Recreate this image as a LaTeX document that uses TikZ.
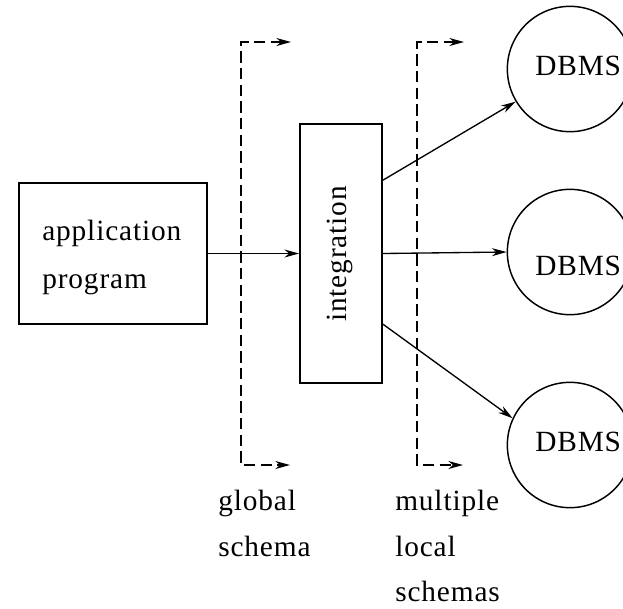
\documentclass[tikz,border=0pt]{standalone}
\usepackage{fontspec}
\setmainfont{Liberation Serif}[LetterSpace=3]
\usetikzlibrary{arrows.meta}
\begin{document}
\begin{tikzpicture}[x=0.75pt,y=-0.75pt,
  box/.style={draw,line width=1.4pt,inner sep=0pt},
  db/.style={draw,circle,line width=1.1pt,minimum size=94pt,inner sep=0pt},
  lbl/.style={anchor=base west,inner sep=0pt,font=\fontsize{22pt}{26pt}\selectfont},
  flow/.style={line width=1pt,-{Stealth[length=11pt,width=6pt,inset=3.5pt]}},
  schema/.style={line width=1.2pt,dash pattern=on 8.5pt off 4pt,
    {Stealth[length=11pt,width=6pt,inset=3.5pt]}-{Stealth[length=11pt,width=6pt,inset=3.5pt]}}]
  \useasboundingbox (0,0) rectangle (623,608);
  % blocks
  \node[box,minimum width=141pt,minimum height=106pt] (app) at (113,253.5) {};
  \node[box,minimum width=61.5pt,minimum height=194pt] (integ) at (341,253.5) {};
  \node[db] (db1) at (570,69) {};
  \node[db] (db2) at (570,252) {};
  \node[db] (db3) at (570,445) {};
  % texts
  \node[lbl] (t1) at (42,240) {application};
  \node[lbl] (t2) at (42,288) {program};
  \node[lbl,rotate=90] (t3) at (346,322) {integration};
  \node[lbl] (d1) at (535,75) {DBMS};
  \node[lbl] (d2) at (535,275) {DBMS};
  \node[lbl] (d3) at (535,451.7) {DBMS};
  \node[lbl] (g1) at (218,510) {global};
  \node[lbl] (g2) at (218,556) {schema};
  \node[lbl] (m1) at (395,510) {multiple};
  \node[lbl] (m2) at (395,556) {local};
  \node[lbl] (m3) at (395,601.5) {schemas};
  % schema boundaries
  \coordinate (gt) at (291,42);
  \coordinate (gb) at (290,465);
  \coordinate (lt) at (464,42);
  \coordinate (lb) at (463,465);
  \draw[schema] (gt) -- (241,42) -- (241,465) -- (gb);
  \draw[schema] (lt) -- (417,42) -- (417,465) -- (lb);
  % data flow
  \draw[flow] (app.east) -- (integ.west);
  \draw[flow] ([yshift=55pt]integ.east) -- (db1.211);
  \draw[flow] (integ.east) -- (db2.west);
  \draw[flow] ([yshift=-53pt]integ.east) -- (db3.155);
\end{tikzpicture}
\end{document}
